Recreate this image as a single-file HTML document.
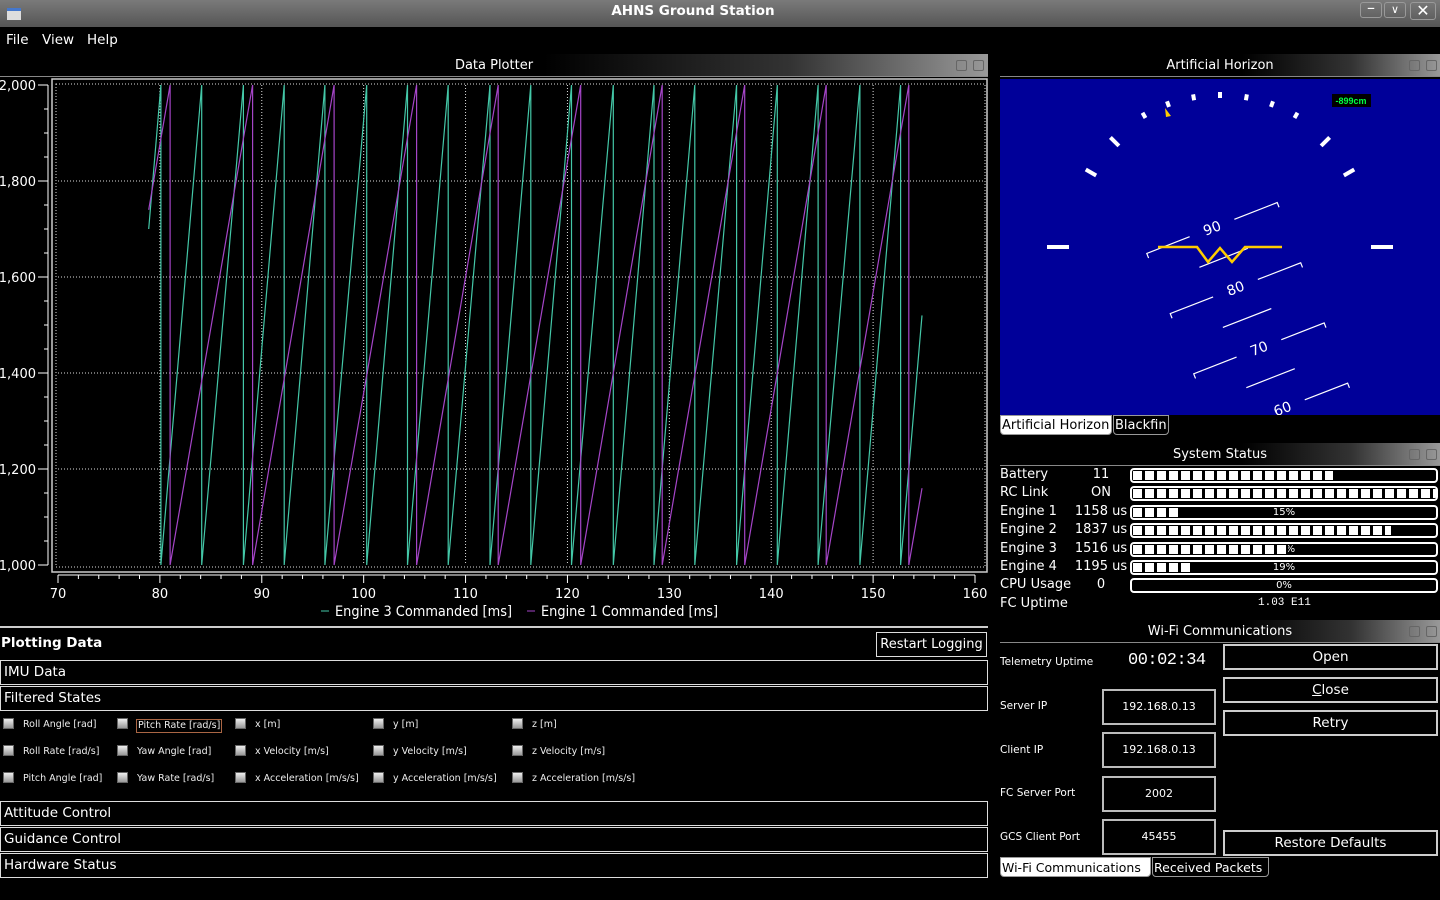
<!DOCTYPE html>
<html><head><meta charset="utf-8"><title>AHNS Ground Station</title>
<style>
*{box-sizing:border-box;margin:0;padding:0}
body{width:1440px;height:900px;background:#000;color:#fff;font-family:"DejaVu Sans","Liberation Sans",sans-serif;position:relative;overflow:hidden;white-space:nowrap}
.abs{position:absolute}
.tbar{position:absolute;height:23px;background:linear-gradient(to right,#000 0%,#000 55%,#333 80%,#999 100%);font-size:13px;text-align:center;line-height:24px;border-bottom:1px solid #888}
.tbar .ic{position:absolute;top:6px;width:11px;height:11px;border:1px solid #666;border-radius:2px}
.sec{position:absolute;left:0;width:988px;height:25px;border:1px solid #ddd;font-size:13.5px;line-height:23px;padding-left:3px}
.cb{position:absolute;width:11px;height:11px;background:linear-gradient(#eee,#999);border:1px solid #666}
.cl{position:absolute;font-size:9.5px;line-height:12px;color:#eee}
.row{position:absolute;left:1000px;font-size:13px;height:18px;line-height:18px}
.pb{position:absolute;left:1130px;width:308px;height:15px;border:2px solid #fff;border-radius:4px;background:#000;overflow:hidden;font-size:10px;text-align:center;line-height:11px}
.pb .f{position:absolute;left:1px;top:1px;height:9px;background:repeating-linear-gradient(to right,#fff 0,#fff 9px,#000 9px,#000 12px)}
.lbl{position:absolute;left:1000px;font-size:10.5px}
.inp{position:absolute;left:1102px;width:114px;height:36px;border:2px solid #bbb;font-size:11px;text-align:center;line-height:32px}
.btn{position:absolute;left:1223px;width:215px;height:26px;border:2px solid #ccc;font-size:13.5px;text-align:center;line-height:22px}
.tab{position:absolute;height:20px;font-size:13px;line-height:19px;padding:0 1px;border:1px solid #999;border-radius:0 0 4px 4px}
</style></head><body>
<div class="abs" style="left:0;top:0;width:1440px;height:27px;background:linear-gradient(#7a7a7a,#555)">
<div class="abs" style="left:593px;top:3px;width:200px;text-align:center;font-weight:bold;font-size:13.5px">AHNS Ground Station</div>
<div class="abs" style="left:7px;top:8px;width:14px;height:12px;background:#ddd;border-top:3px solid #4477cc"></div>
<div class="abs" style="left:1360px;top:2px;width:22px;height:16px;border:1px solid #999;border-radius:3px;text-align:center;line-height:10px">–</div>
<div class="abs" style="left:1384px;top:2px;width:22px;height:16px;border:1px solid #999;border-radius:3px;text-align:center;line-height:14px;font-size:11px">∨</div>
<div class="abs" style="left:1410px;top:2px;width:26px;height:18px;border:1px solid #999;border-radius:3px;text-align:center;line-height:16px">✕</div>
</div>
<div class="abs" style="left:6px;top:32px;font-size:13.5px">File</div>
<div class="abs" style="left:42px;top:32px;font-size:13.5px">View</div>
<div class="abs" style="left:87px;top:32px;font-size:13.5px">Help</div>

<div class="tbar" style="left:0;top:54px;width:988px">Data Plotter<span class="ic" style="left:956px"></span><span class="ic" style="left:973px"></span></div>

<svg class="abs" style="left:0;top:78px" width="990" height="548" viewBox="0 78 990 548" id="plot"></svg>

<div class="abs" style="left:0;top:626px;width:988px;height:2px;background:#ccc"></div>
<div class="abs" style="left:1px;top:635px;font-size:13.5px;font-weight:bold">Plotting Data</div>
<div class="abs" style="left:876px;top:632px;width:111px;height:25px;border:1px solid #ddd;font-size:13px;text-align:center;line-height:23px">Restart Logging</div>
<div class="sec" style="top:660px">IMU Data</div>
<div class="sec" style="top:686px">Filtered States</div>
<div id="cbs"></div>
<div class="sec" style="top:801px">Attitude Control</div>
<div class="sec" style="top:827px">Guidance Control</div>
<div class="sec" style="top:853px">Hardware Status</div>

<div class="tbar" style="left:1000px;top:54px;width:440px">Artificial Horizon<span class="ic" style="left:409px"></span><span class="ic" style="left:426px"></span></div>
<svg class="abs" style="left:1000px;top:79px" width="440" height="336" viewBox="1000 79 440 336">
<rect x="1000" y="79" width="440" height="336" fill="#000099"/>
<g id="rollmarks" stroke="#fff" stroke-width="4"></g>
<rect x="1047" y="245" width="22" height="4" fill="#fff"/>
<rect x="1371" y="245" width="22" height="4" fill="#fff"/>
<g id="ladder" transform="translate(1212,228) rotate(-21.3)" stroke="#fff" stroke-width="1.2" fill="none"></g>
<polyline points="1158,247 1197,247 1208,262 1220,248 1232,262 1245,247 1282,247" stroke="#ffcc00" stroke-width="2.5" fill="none"/>
<polygon points="1165,108 1166,117 1171,116" fill="#ffcc00"/>
<rect x="1332" y="94" width="39" height="13" fill="#000"/>
<text x="1351" y="104" fill="#00ff44" font-size="9" font-weight="bold" text-anchor="middle" font-family="Liberation Sans,sans-serif">-899cm</text>
</svg>
<div class="tab" style="left:1000px;top:415px;width:112px;background:#fff;color:#000">Artificial Horizon</div>
<div class="tab" style="left:1113px;top:415px;width:56px">Blackfin</div>

<div class="tbar" style="left:1000px;top:443px;width:440px">System Status<span class="ic" style="left:409px"></span><span class="ic" style="left:426px"></span></div>
<div id="status"></div>

<div class="tbar" style="left:1000px;top:620px;width:440px">Wi-Fi Communications<span class="ic" style="left:409px"></span><span class="ic" style="left:426px"></span></div>
<div class="lbl" style="top:656px">Telemetry Uptime</div>
<div class="abs" style="left:1128px;top:651px;font-size:17px;font-family:'Liberation Mono',monospace;letter-spacing:-0.5px">00:02:34</div>
<div class="lbl" style="top:700px">Server IP</div>
<div class="inp" style="top:689px">192.168.0.13</div>
<div class="lbl" style="top:744px">Client IP</div>
<div class="inp" style="top:732px">192.168.0.13</div>
<div class="lbl" style="top:787px">FC Server Port</div>
<div class="inp" style="top:776px">2002</div>
<div class="lbl" style="top:831px">GCS Client Port</div>
<div class="inp" style="top:819px">45455</div>
<div class="btn" style="top:644px">Open</div>
<div class="btn" style="top:677px"><u>C</u>lose</div>
<div class="btn" style="top:710px">Retry</div>
<div class="btn" style="top:830px">Restore Defaults</div>
<div class="tab" style="left:1000px;top:857px;width:151px;background:#fff;color:#000;font-size:12.5px">Wi-Fi Communications</div>
<div class="tab" style="left:1152px;top:857px;width:117px;font-size:12.5px">Received Packets</div>

<script>
// ---- chart data ----
const xTicks=[70,80,90,100,110,120,130,140,150,160];
const yTicks=[1000,1200,1400,1600,1800,2000];
const yTickLabels=["1,000","1,200","1,400","1,600","1,800","2,000"];
const seriesNames=["Engine 3 Commanded [ms]","Engine 1 Commanded [ms]"];
const engine3X=[78.9,80.1,80.1,84.1,84.1,88.2,88.2,92.2,92.2,96.2,96.2,100.3,100.3,104.3,104.3,108.3,108.3,112.4,112.4,116.4,116.4,120.4,120.4,124.5,124.5,128.5,128.5,132.5,132.5,136.6,136.6,140.6,140.6,144.6,144.6,148.7,148.7,152.7,152.7,154.8];
const engine3Y=[1700,2000,1000,2000,1000,2000,1000,2000,1000,2000,1000,2000,1000,2000,1000,2000,1000,2000,1000,2000,1000,2000,1000,2000,1000,2000,1000,2000,1000,2000,1000,2000,1000,2000,1000,2000,1000,2000,1000,1520];
const engine1X=[78.9,81.0,81.0,89.1,89.1,97.1,97.1,105.2,105.2,113.2,113.2,121.3,121.3,129.3,129.3,137.4,137.4,145.4,145.4,153.5,153.5,154.8];
const engine1Y=[1740,2000,1000,2000,1000,2000,1000,2000,1000,2000,1000,2000,1000,2000,1000,2000,1000,2000,1000,2000,1000,1160];

const NS="http://www.w3.org/2000/svg";
const svg=document.getElementById('plot');
const X0=70,X1=160,PX0=58,PX1=975,Y0=1000,Y1=2000,PY0=565,PY1=85;
function sx(v){return PX0+(v-X0)*(PX1-PX0)/(X1-X0);}
function sy(v){return PY0+(v-Y0)*(PY1-PY0)/(Y1-Y0);}
function mk(t,a,p){const e=document.createElementNS(NS,t);for(const k in a)e.setAttribute(k,a[k]);(p||svg).appendChild(e);return e;}
mk('rect',{x:52,y:79,width:935,height:493,fill:'none',stroke:'#ccc','stroke-width':1.5});
mk('rect',{x:56,y:84,width:929,height:483,fill:'none',stroke:'#ddd','stroke-dasharray':'1 2'});
xTicks.forEach(v=>{
  if(v>X0&&v<X1){const g=mk('line',{x1:sx(v),x2:sx(v),y1:PY1,y2:PY0,stroke:'#ddd','stroke-dasharray':'1 2'});
  }
  const t=mk('text',{x:sx(v),y:598,fill:'#fff','font-size':13,'text-anchor':'middle'});t.textContent=v;
  
  
});
yTicks.forEach((v,i)=>{
  if(v>Y0&&v<Y1){const g=mk('line',{x1:PX0,x2:985,y1:sy(v),y2:sy(v),stroke:'#ddd','stroke-dasharray':'1 2'});
  }
  mk('line',{x1:38,x2:48,y1:sy(v),y2:sy(v),stroke:'#fff'});
  const t=mk('text',{x:36,y:sy(v)+5,fill:'#fff','font-size':13,'text-anchor':'end'});t.textContent=yTickLabels[i];
  
  
});
mk('line',{x1:48,x2:48,y1:PY1,y2:PY0,stroke:'#fff'});
for(let v=1050;v<2000;v+=50){if(v%200)mk('line',{x1:44,x2:48,y1:sy(v),y2:sy(v),stroke:'#fff'});}
mk('line',{x1:PX0,x2:PX1,y1:575,y2:575,stroke:'#fff'});
for(let v=X0;v<=X1;v+=2){mk('line',{x1:sx(v),x2:sx(v),y1:575,y2:v%10?579:583,stroke:'#fff'});}
function path(xs,ys){return xs.map((x,i)=>(i?'L':'M')+sx(x).toFixed(1)+','+sy(ys[i]).toFixed(1)).join(' ');}
const l3=mk('path',{d:path(engine3X,engine3Y),stroke:'#44c8a8',fill:'none','stroke-width':1.2});


const l1=mk('path',{d:path(engine1X,engine1Y),stroke:'#a545c8',fill:'none','stroke-width':1.2});


[[321,'#44c8a8',seriesNames[0]],[527,'#a545c8',seriesNames[1]]].forEach(([x,c,n])=>{
  mk('line',{x1:x,x2:x+8,y1:611,y2:611,stroke:c});
  const t=mk('text',{x:x+14,y:616,fill:'#fff','font-size':14,textLength:177,lengthAdjust:'spacingAndGlyphs'});t.textContent=n;
  
  
});

// horizon
const rm=document.getElementById('rollmarks');
[[-60,12],[-45,12],[-30,6],[-20,6],[-10,6],[0,6],[10,6],[20,6],[30,6],[45,12],[60,12]].forEach(([a,L])=>{
  const r=a*Math.PI/180,cx=1220,cy=247,R=155;
  const dx=Math.sin(r),dy=-Math.cos(r);
  mk('line',{x1:cx+dx*(R-L),y1:cy+dy*(R-L),x2:cx+dx*R,y2:cy+dy*R},rm);
});
const ld=document.getElementById('ladder');
[[90,0],[80,1],[70,2],[60,3]].forEach(([p,i])=>{
  const y=i*64.6;
  mk('path',{d:`M-70,${y+5} L-70,${y} L-24,${y} M24,${y} L70,${y} L70,${y+5}`},ld);
  const t=mk('text',{x:0,y:y+5,fill:'#fff',stroke:'none','font-size':14,'text-anchor':'middle'},ld);t.textContent=p;
  mk('line',{x1:-26,x2:26,y1:y+32,y2:y+32},ld);
});

// checkboxes
const cbLabels=[["Roll Angle [rad]","Pitch Rate [rad/s]","x [m]","y [m]","z [m]"],["Roll Rate [rad/s]","Yaw Angle [rad]","x Velocity [m/s]","y Velocity [m/s]","z Velocity [m/s]"],["Pitch Angle [rad]","Yaw Rate [rad/s]","x Acceleration [m/s/s]","y Acceleration [m/s/s]","z Acceleration [m/s/s]"]];
const cbX=[3,117,235,373,512],cbY=[724,751,778];
let h='';
cbLabels.forEach((r,ri)=>r.forEach((l,ci)=>{
  h+=`<div class="cb" style="left:${cbX[ci]}px;top:${cbY[ri]-6}px"></div><div class="cl" style="left:${cbX[ci]+20}px;top:${cbY[ri]-5}px${ri==0&&ci==1?';border:1px solid #a64;padding:0 1px;left:'+(cbX[ci]+19)+'px':''}">${l}</div>`;
}));
document.getElementById('cbs').innerHTML=h;

// status
const st=[["Battery","11",66],["RC Link","ON",100],["Engine 1","1158 us",15],["Engine 2","1837 us",85],["Engine 3","1516 us",51],["Engine 4","1195 us",19],["CPU Usage","0",0]];
h='';
st.forEach(([n,v,p],i)=>{
  const y=466+i*18.4;
  h+=`<div class="row" style="top:${y}px">${n}</div><div class="row" style="top:${y}px;left:1068px;width:66px;text-align:center">${v}</div><div class="pb" style="top:${y+2}px">${p}%<div class="f" style="width:${p*3.03}px"></div></div>`;
});
h+=`<div class="row" style="top:595px">FC Uptime</div><div class="abs" style="left:1258px;top:597px;font-size:11px;font-family:'Liberation Mono',monospace">1.03 E11</div>`;
document.getElementById('status').innerHTML=h;
</script>
</body></html>
